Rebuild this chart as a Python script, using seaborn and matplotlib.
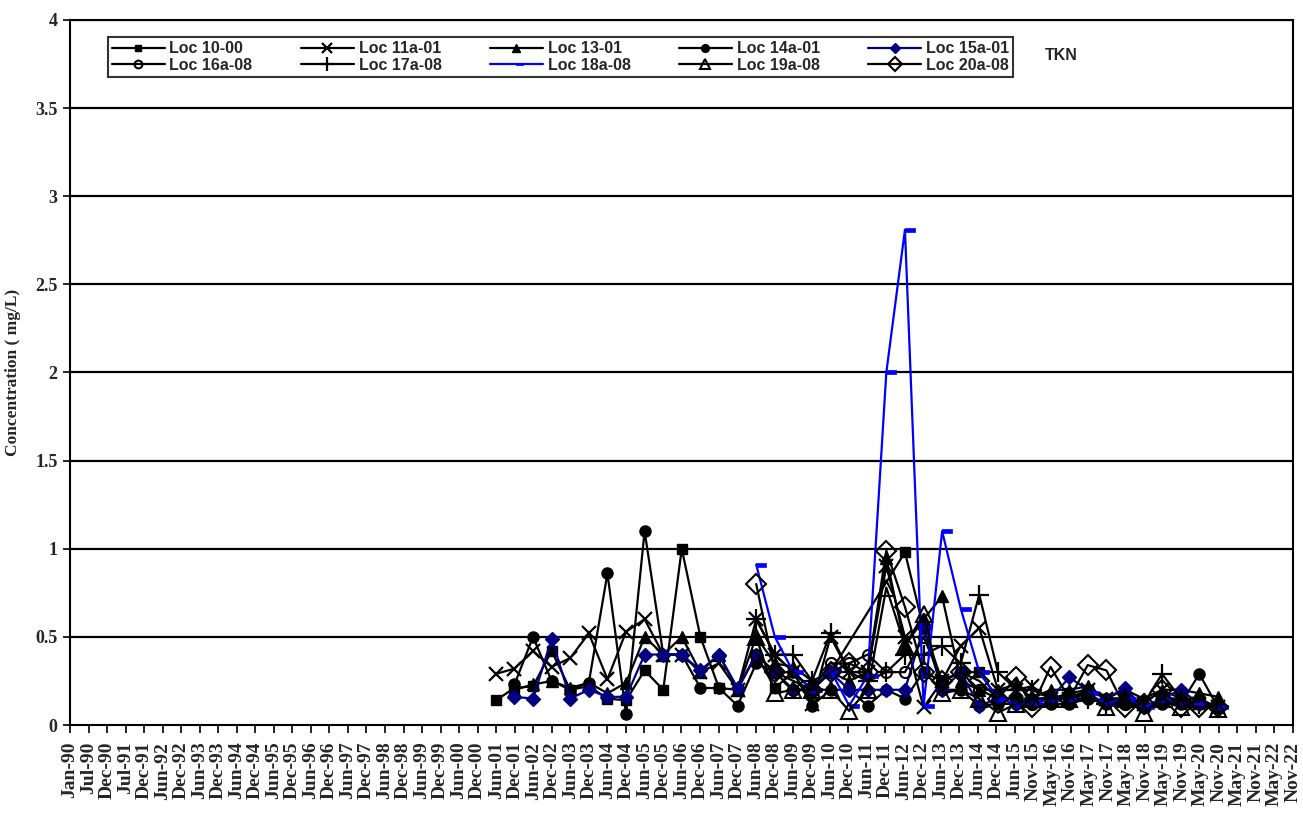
import numpy as np
import pandas as pd
import matplotlib
matplotlib.use("Agg")
import matplotlib.pyplot as plt
import matplotlib.dates as mdates
from matplotlib.ticker import FixedLocator, FuncFormatter
import seaborn as sns

# sample dates (semi-annual sampling)
sample_dates = [
    "2001-06-15", "2001-12-15", "2002-06-15", "2002-12-15", "2003-06-15",
    "2003-12-15", "2004-06-15", "2004-12-15", "2005-06-15", "2005-12-15",
    "2006-06-15", "2006-12-15", "2007-06-15", "2007-12-15", "2008-06-15",
    "2008-12-15", "2009-06-15", "2009-12-15", "2010-06-15", "2010-12-15",
    "2011-06-15", "2011-12-15", "2012-06-15", "2012-12-15", "2013-06-15",
    "2013-12-15", "2014-06-15", "2014-12-15", "2015-06-15", "2015-11-15",
    "2016-05-15", "2016-11-15", "2017-05-15", "2017-11-15", "2018-05-15",
    "2018-11-15", "2019-05-15", "2019-11-15", "2020-05-15", "2020-11-15",
]
nan = np.nan

# TKN concentration (mg/L) per location
loc_10_00 = [0.14, 0.21, 0.22, 0.42, 0.20, 0.22, 0.15, 0.14, 0.31, 0.20,
             1.00, 0.50, 0.21, 0.20, 0.40, 0.21, 0.30, 0.20, 0.30, nan,
             nan, nan, 0.98, 0.55, 0.25, 0.30, 0.30, 0.15, 0.15, 0.15,
             0.15, 0.18, 0.20, 0.15, 0.15, 0.10, 0.13, 0.15, 0.12, 0.10]
loc_11a_01 = [0.29, 0.32, 0.42, 0.33, 0.38, 0.52, 0.26, 0.53, 0.60, 0.40,
              0.40, 0.30, 0.35, 0.20, 0.60, 0.40, 0.30, 0.12, 0.50, 0.30,
              0.30, 0.90, 0.50, 0.10, 0.25, 0.45, 0.55, 0.20, 0.20, 0.22,
              0.15, 0.15, 0.20, 0.15, 0.15, 0.12, 0.20, 0.15, 0.12, 0.10]
loc_13_01 = [nan, 0.20, 0.23, 0.25, 0.21, 0.24, 0.18, 0.24, 0.50, 0.40,
             0.50, 0.30, 0.40, 0.20, 0.50, 0.35, 0.33, 0.25, 0.30, 0.25,
             0.30, 0.95, 0.45, 0.60, 0.73, 0.25, 0.20, 0.20, 0.23, 0.15,
             0.20, 0.20, 0.22, 0.15, 0.20, 0.15, 0.20, 0.20, 0.18, 0.16]
loc_14a_01 = [nan, 0.23, 0.50, 0.25, 0.20, 0.24, 0.86, 0.06, 1.10, 0.40,
              0.40, 0.21, 0.21, 0.11, 0.35, 0.30, 0.30, 0.11, 0.20, 0.20,
              0.11, 0.20, 0.15, 0.30, 0.20, 0.20, 0.11, 0.12, 0.12, 0.12,
              0.12, 0.12, 0.15, 0.12, 0.12, 0.10, 0.12, 0.12, 0.29, 0.10]
loc_15a_01 = [nan, 0.16, 0.15, 0.49, 0.15, 0.20, 0.16, 0.16, 0.40, 0.40,
              0.40, 0.31, 0.40, 0.21, 0.40, 0.30, 0.20, 0.20, 0.30, 0.20,
              0.20, 0.20, 0.20, 0.55, 0.20, 0.30, 0.11, 0.15, 0.12, 0.15,
              0.15, 0.27, 0.20, 0.15, 0.21, 0.10, 0.15, 0.20, 0.12, 0.10]
loc_16a_08 = [nan] * 14 + [
              0.40, 0.30, 0.20, 0.20, 0.35, 0.35, 0.40, 0.30, 0.30, 0.50,
              0.25, 0.30, 0.20, 0.15, 0.15, 0.12, 0.15, 0.15, 0.20, 0.15,
              0.12, 0.10, 0.15, 0.15, 0.15, 0.10]
loc_17a_08 = [nan] * 14 + [
              0.60, 0.40, 0.40, 0.25, 0.52, 0.30, 0.25, 0.30, 0.40, 0.40,
              0.45, 0.35, 0.74, 0.30, 0.20, 0.20, 0.15, 0.15, 0.15, 0.12,
              0.15, 0.12, 0.29, 0.15, 0.12, 0.10]
loc_18a_08 = [nan] * 14 + [
              0.91, 0.50, 0.30, 0.20, 0.31, 0.11, 0.28, 2.00, 2.81, 0.11,
              1.10, 0.66, 0.30, 0.15, 0.12, 0.12, 0.15, 0.15, 0.18, 0.12,
              0.15, 0.10, 0.15, 0.12, 0.12, 0.10]
loc_19a_08 = [nan] * 14 + [
              0.50, 0.18, 0.20, 0.20, 0.20, 0.08, 0.20, 0.78, 0.45, 0.63,
              0.18, 0.20, 0.15, 0.07, 0.12, 0.15, 0.15, 0.15, 0.18, 0.10,
              0.15, 0.07, 0.15, 0.10, 0.15, 0.09]
loc_20a_08 = [nan] * 14 + [
              0.80, 0.30, 0.25, 0.20, 0.30, 0.35, 0.30, 0.99, 0.67, 0.30,
              0.25, 0.30, 0.25, 0.15, 0.27, 0.10, 0.33, 0.15, 0.34, 0.31,
              0.10, 0.12, 0.20, 0.10, 0.10, 0.10]

series_names = ["Loc 10-00", "Loc 11a-01", "Loc 13-01", "Loc 14a-01", "Loc 15a-01",
                "Loc 16a-08", "Loc 17a-08", "Loc 18a-08", "Loc 19a-08", "Loc 20a-08"]
series_values = [loc_10_00, loc_11a_01, loc_13_01, loc_14a_01, loc_15a_01,
                 loc_16a_08, loc_17a_08, loc_18a_08, loc_19a_08, loc_20a_08]

dash_marker = [(0, 0.35), (2.2, 0.35), (2.2, -0.35), (0, -0.35), (0, 0.35)]
# color, marker, face, size, edge width
styles = {
    "Loc 10-00": ("black", "s", "black", 7, 1.0),
    "Loc 11a-01": ("black", "x", "black", 10, 1.6),
    "Loc 13-01": ("black", "^", "black", 8, 1.0),
    "Loc 14a-01": ("black", "o", "black", 8, 1.0),
    "Loc 15a-01": ("#000080", "D", "#000080", 7, 1.0),
    "Loc 16a-08": ("black", "o", "none", 8, 1.5),
    "Loc 17a-08": ("black", "+", "black", 14, 1.6),
    "Loc 18a-08": ("#0000FF", dash_marker, "#0000FF", 14, 0.5),
    "Loc 19a-08": ("black", "^", "none", 11, 1.5),
    "Loc 20a-08": ("black", "D", "none", 10, 1.5),
}

sns.set_style("white")
fig = plt.figure(figsize=(13.03, 8.15), dpi=100)
ax = fig.add_axes([0.0537, 0.1104, 0.9386, 0.8651])

dates = pd.to_datetime(sample_dates)
for name, vals in zip(series_names, series_values):
    color, marker, face, ms, mew = styles[name]
    df = pd.DataFrame({"date": dates, "conc": vals}).dropna()
    sns.lineplot(data=df, x="date", y="conc", ax=ax, color=color, marker=marker,
                 markersize=ms, markerfacecolor=face, markeredgecolor=color,
                 markeredgewidth=mew, linewidth=1.6, label=name, sort=False)

# x axis: Excel style date ticks
t0 = mdates.date2num(pd.Timestamp("1990-01-01"))
tick_pos = [t0 + 182 * k for k in range(67)]
ax.set_xlim(tick_pos[0], tick_pos[-1])
ax.xaxis.set_major_locator(FixedLocator(tick_pos))
ax.xaxis.set_major_formatter(mdates.DateFormatter("%b-%y"))
ax.set_ylim(0, 4)
ax.yaxis.set_major_locator(FixedLocator(np.arange(0, 4.01, 0.5)))
ax.yaxis.set_major_formatter(FuncFormatter(lambda v, p: f"{v:g}"))

ax.grid(False)
for y in np.arange(0.5, 4.01, 0.5):
    ax.axhline(y, color="black", lw=1.6, zorder=0)
for sp in ax.spines.values():
    sp.set_color("black")
    sp.set_linewidth(1.5)

ax.tick_params(axis="x", direction="out", length=6, width=1.2, color="black",
               labelsize=14, rotation=90, pad=6, bottom=True)
ax.tick_params(axis="y", direction="out", length=5, width=1.2, color="black",
               labelsize=13, left=True, pad=4)
for lbl in ax.get_xticklabels() + ax.get_yticklabels():
    lbl.set_fontfamily("Liberation Serif")
    lbl.set_fontweight("bold")

ax.set_xlabel("")
ax.set_ylabel("Concentration ( mg/L)", fontfamily="Liberation Serif",
              fontweight="bold", fontsize=12.5, labelpad=10)

# legend in Excel row order
handles, labels = ax.get_legend_handles_labels()
order = [0, 5, 1, 6, 2, 7, 3, 8, 4, 9]
leg = ax.legend([handles[i] for i in order], [labels[i] for i in order],
                ncol=5, loc="lower left", bbox_to_anchor=(0.031, 0.919, 0.74, 0.06),
                mode="expand", borderaxespad=0, frameon=True, fancybox=False,
                edgecolor="black", handlelength=3.3, handletextpad=0.3,
                labelspacing=0.1, borderpad=0.25, markerscale=0.7,
                prop={"family": "Liberation Sans", "weight": "bold", "size": 11.5})
leg.get_frame().set_linewidth(1.5)

ax.text(0.797, 0.949, "TKN", transform=ax.transAxes, fontfamily="Liberation Sans",
        fontweight="bold", fontsize=11.5, va="center", ha="left")

fig.savefig("out.png", dpi=100)
